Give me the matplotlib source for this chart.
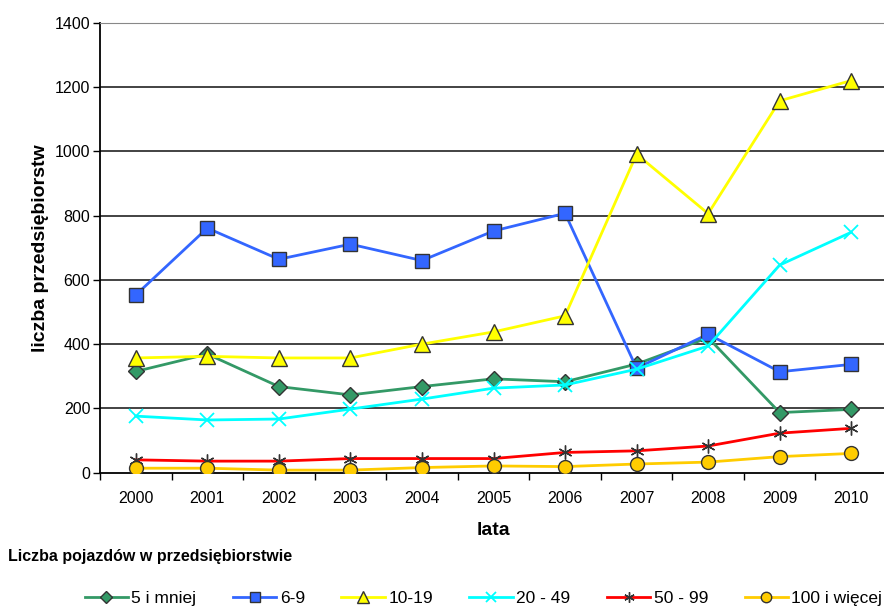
import matplotlib.pyplot as plt
import numpy as np

plt.rcParams['font.family'] = ['Liberation Sans', 'DejaVu Sans']

lata = ['2000', '2001', '2002', '2003', '2004', '2005', '2006', '2007', '2008', '2009', '2010']

# liczba przedsiębiorstw wg liczby pojazdów
do_5 = [315, 369, 268, 242, 268, 292, 283, 338, 420, 187, 197]
od_6_do_9 = [553, 761, 664, 711, 660, 752, 807, 325, 431, 314, 337]
od_10_do_19 = [357, 362, 357, 357, 400, 438, 488, 991, 806, 1157, 1220]
od_20_do_49 = [176, 164, 167, 198, 229, 263, 273, 322, 394, 646, 748]
od_50_do_99 = [40, 36, 36, 44, 44, 44, 63, 68, 83, 123, 138]
od_100 = [14, 14, 8, 8, 16, 21, 19, 27, 33, 50, 60]

nazwy = ['5 i mniej', '6-9', '10-19', '20 - 49', '50 - 99', '100 i więcej']

fig = plt.figure(figsize=(8.84, 6.10), dpi=100)
ax = fig.add_axes([100/884, 137.3/610, 787/884, 450/610])

x = np.arange(len(lata))
ec = '#333333'
ax.plot(x, do_5, color='#339966', lw=2, marker='D', ms=8, mfc='#339966', mec=ec, mew=1, label=nazwy[0], zorder=3)
ax.plot(x, od_6_do_9, color='#3366FF', lw=2, marker='s', ms=10, mfc='#3366FF', mec=ec, mew=1, label=nazwy[1], zorder=3)
ax.plot(x, od_10_do_19, color='#FFFF00', lw=2, marker='^', ms=11, mfc='#FFFF00', mec=ec, mew=1, label=nazwy[2], zorder=3)
ax.plot(x, od_20_do_49, color='#00FFFF', lw=2, marker='x', ms=10, mec='#00FFFF', mew=1.3, label=nazwy[3], zorder=3)
ax.plot(x, od_50_do_99, color='#FF0000', lw=2, marker=(6, 2, 0), ms=10, mec=ec, mew=1, label=nazwy[4], zorder=3)
ax.plot(x, od_100, color='#FFCC00', lw=2, marker='o', ms=10, mfc='#FFCC00', mec=ec, mew=1, label=nazwy[5], zorder=3)

ax.set_xlim(-0.5, len(lata) - 0.5)
ax.set_ylim(0, 1400)
ax.set_yticks(range(0, 1401, 200))
ax.set_xticks(x)
ax.set_xticklabels(lata)
ax.set_xticks(np.arange(-0.5, len(lata), 1), minor=True)
ax.tick_params(axis='x', which='major', length=0, pad=13, labelsize=11.5)
ax.tick_params(axis='x', which='minor', length=5, width=1, direction='out')
ax.tick_params(axis='y', length=5, width=1, direction='out', labelsize=11.5, pad=2)

for v in range(200, 1201, 200):
    ax.axhline(v, color='#222222', lw=1.2, zorder=1)
ax.spines['right'].set_visible(False)
ax.spines['top'].set_color('#888888')
ax.spines['left'].set_linewidth(1.3)
ax.spines['bottom'].set_linewidth(1.3)

ax.set_ylabel('liczba przedsiębiorstw', fontsize=14, fontweight='bold', labelpad=4)
ax.set_xlabel('lata', fontsize=14, fontweight='bold', labelpad=12)

fig.text(8/884, 1 - 556/610, 'Liczba pojazdów w przedsiębiorstwie', fontsize=11.5,
         fontweight='bold', va='center', ha='left')

fig.legend(loc='center right', bbox_to_anchor=(1.0, 1 - 598/610), ncol=6, frameon=False,
           fontsize=12.5, handlelength=2.5, handletextpad=0.2, columnspacing=2.1,
           borderaxespad=0, borderpad=0.1, markerscale=0.75)

fig.savefig('out.png', dpi=100)
